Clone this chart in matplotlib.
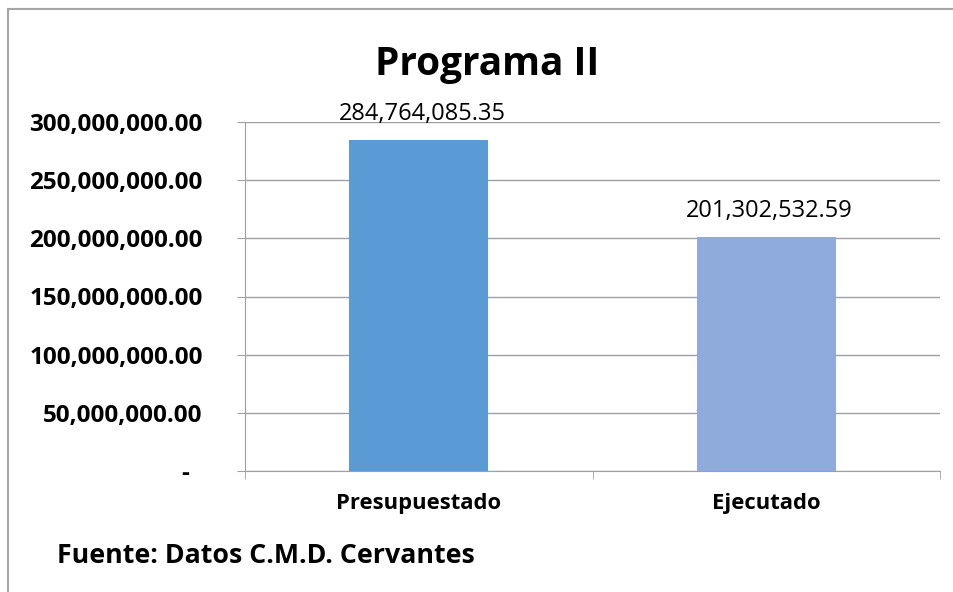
import matplotlib
matplotlib.use("Agg")
import matplotlib.pyplot as plt
from matplotlib.lines import Line2D

categories = ["Presupuestado", "Ejecutado"]
values = [284764085.35, 201302532.59]
value_labels = ["284,764,085.35", "201,302,532.59"]
yticks = [0, 50000000, 100000000, 150000000, 200000000, 250000000, 300000000]
ytick_labels = ["-  ", "50,000,000.00", "100,000,000.00", "150,000,000.00",
                "200,000,000.00", "250,000,000.00", "300,000,000.00"]
colors = ["#5B9BD5", "#8FAADC"]

plt.rcParams['font.family'] = ['Open Sans', 'DejaVu Sans']

fig = plt.figure(figsize=(9.54, 5.92), dpi=100)
ax = fig.add_axes([245/954, 1-471/592, (940-245)/954, (471-122)/592])

x = list(range(len(categories)))
ax.bar(x, values, width=0.4, color=colors, zorder=3)
ax.set_xlim(-0.5, 1.5)
ax.set_ylim(0, 300000000)

for xi, v, lab in zip(x, values, value_labels):
    ax.annotate(lab, (xi, v), xytext=(2.5, 14.5), textcoords="offset points",
                ha="center", va="baseline", fontsize=17, color="#000000")

ax.set_yticks(yticks)
ax.set_yticklabels(ytick_labels, fontsize=17.5, fontweight="bold")
ax.set_xticks(x)
ax.set_xticklabels(categories, fontsize=15.8, fontweight="bold")
ax.tick_params(axis="x", length=0, pad=15.5)
ax.tick_params(axis="y", length=6, color="#A0A0A0", pad=24.5)
ax.set_xticks([-0.5, 0.5, 1.5], minor=True)
ax.tick_params(axis="x", which="minor", length=6, color="#A0A0A0")

ax.grid(axis="y", color="#A0A0A0", linewidth=1, zorder=0)
for s in ["top", "right"]:
    ax.spines[s].set_visible(False)
for s in ["left", "bottom"]:
    ax.spines[s].set_color("#A0A0A0")

fig.text(487.5/954, 1-75/592, "Programa II", ha="center", va="baseline",
         fontsize=27.9, fontweight="bold")
fig.text(57/954, 1-563/592, "Fuente: Datos C.M.D. Cervantes", ha="left", va="baseline",
         fontsize=19.3, fontweight="bold")

fig.add_artist(Line2D([8.5/954, 1.0], [1-8.5/592, 1-8.5/592], transform=fig.transFigure,
                      color="#A6A6A6", linewidth=1.5))
fig.add_artist(Line2D([8.5/954, 8.5/954], [0, 1-8.5/592], transform=fig.transFigure,
                      color="#A6A6A6", linewidth=1.5))

fig.savefig("out.png", dpi=100, facecolor="white")
